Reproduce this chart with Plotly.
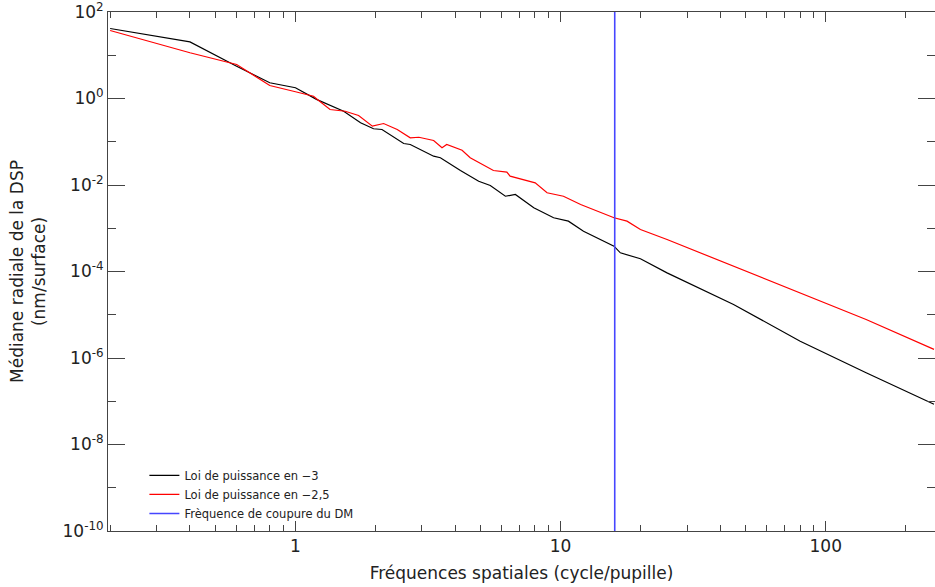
import plotly.graph_objects as go

# Fréquences (cycle/pupille) et médiane radiale de la DSP
freq_m3 = [0.2, 0.4, 0.6, 0.8, 1.0, 1.2, 1.52, 1.76, 1.97, 2.12, 2.56, 2.71,
           3.32, 3.52, 4.19, 4.91, 5.43, 6.19, 6.75, 7.92, 9.41, 10.7, 12.2,
           14.1, 15.9, 16.8, 20.0, 25.2, 44.9, 80.1, 142, 256]
dsp_m3 = [41.6, 20.4, 5.58, 2.31, 1.77, 0.955, 0.508, 0.274, 0.200, 0.192,
          0.0912, 0.0863, 0.0463, 0.0427, 0.0216, 0.0122, 0.00977, 0.00550,
          0.00603, 0.00297, 0.00175, 0.00146, 8.55e-4, 5.50e-4, 3.85e-4,
          2.70e-4, 1.97e-4, 9.3e-5, 1.73e-5, 2.45e-6, 4.55e-7, 8.5e-8]

freq_m25 = [0.2, 0.4, 0.6, 0.8, 1.0, 1.17, 1.21, 1.35, 1.54, 1.73, 1.95, 2.15,
            2.42, 2.71, 2.92, 3.32, 3.57, 3.72, 4.25, 4.56, 5.58, 6.27, 6.45,
            8.02, 8.89, 10.25, 11.9, 13.3, 15.9, 17.8, 20.0, 25.2, 44.9, 80.1,
            142, 256]
dsp_m25 = [37.3, 11.4, 6.11, 2.00, 1.43, 1.13, 0.948, 0.557, 0.508, 0.405,
           0.229, 0.264, 0.192, 0.123, 0.127, 0.107, 0.0724, 0.0863, 0.0638,
           0.0427, 0.0216, 0.0198, 0.0160, 0.0112, 0.00661, 0.00550, 0.00355,
           0.00272, 0.00175, 0.00146, 9.33e-4, 5.50e-4, 1.33e-4, 3.24e-5,
           7.76e-6, 1.58e-6]

# Fréquence de coupure du DM
f_coupure = 16
y_limites = [1e-10, 1e2]

x_ticks = [1, 10, 100]
x_labels = ['1', '10', '100']
x_minor = [0.2, 0.3, 0.4, 0.5, 0.6, 0.7, 0.8, 0.9, 2, 3, 4, 5, 6, 7, 8, 9,
           20, 30, 40, 50, 60, 70, 80, 90, 200]
y_ticks = [1e-10, 1e-8, 1e-6, 1e-4, 1e-2, 1e0, 1e2]
y_labels = ['10<sup>-10</sup>', '10<sup>-8</sup>', '10<sup>-6</sup>',
            '10<sup>-4</sup>', '10<sup>-2</sup>', '10<sup>0</sup>',
            '10<sup>2</sup>']
y_minor = [1e-9, 1e-7, 1e-5, 1e-3, 1e-1, 1e1]

police = 'DejaVu Sans, Liberation Sans, sans-serif'

fig = go.Figure()

fig.add_trace(go.Scatter(
    x=freq_m3, y=dsp_m3, mode='lines',
    name='Loi de puissance en −3',
    line=dict(color='black', width=1.2)
))

fig.add_trace(go.Scatter(
    x=freq_m25, y=dsp_m25, mode='lines',
    name='Loi de puissance en −2,5',
    line=dict(color='#ff0000', width=1.2)
))

fig.add_trace(go.Scatter(
    x=[f_coupure, f_coupure], y=y_limites, mode='lines',
    name='Frèquence de coupure du DM',
    line=dict(color='#4646ff', width=1.6)
))

axe_commun = dict(
    showline=True, linecolor='#444', linewidth=1, mirror='ticks',
    ticks='inside', tickcolor='#444', tickwidth=1,
    showgrid=False, zeroline=False, ticklabeloverflow='allow',
    tickfont=dict(size=17, color='#222', family=police),
)

fig.update_xaxes(
    type='log', range=[-0.707, 2.412],
    tickmode='array', tickvals=x_ticks, ticktext=x_labels, ticklen=10,
    minor=dict(tickmode='array', tickvals=x_minor, ticks='inside',
               ticklen=6, tickcolor='#444', showgrid=False),
    title=dict(text='Fréquences spatiales (cycle/pupille)',
               font=dict(size=17, color='#222', family=police), standoff=11),
    **axe_commun
)

fig.update_yaxes(
    type='log', range=[-10, 2],
    tickmode='array', tickvals=y_ticks, ticktext=y_labels, ticklen=17,
    minor=dict(tickmode='array', tickvals=y_minor, ticks='inside',
               ticklen=8, tickcolor='#444', showgrid=False),
    title=dict(text='Médiane radiale de la DSP<br>(nm/surface)',
               font=dict(size=17, color='#222', family=police), standoff=12),
    **axe_commun
)

fig.update_layout(
    width=935, height=587,
    margin=dict(l=108, r=0, t=12, b=56),
    plot_bgcolor='white', paper_bgcolor='white',
    font=dict(family=police, color='#222'),
    showlegend=True,
    legend=dict(x=0.044, y=0.135, xanchor='left', yanchor='top',
                bgcolor='rgba(0,0,0,0)', font=dict(size=11.5, color='#222'),
                tracegroupgap=0),
)

# sans marge autour de la figure dans la page
fig.write_html('out.html',
               config={'displayModeBar': False},
               post_script="document.body.style.margin='0';"
                           "document.body.style.overflow='hidden';")
